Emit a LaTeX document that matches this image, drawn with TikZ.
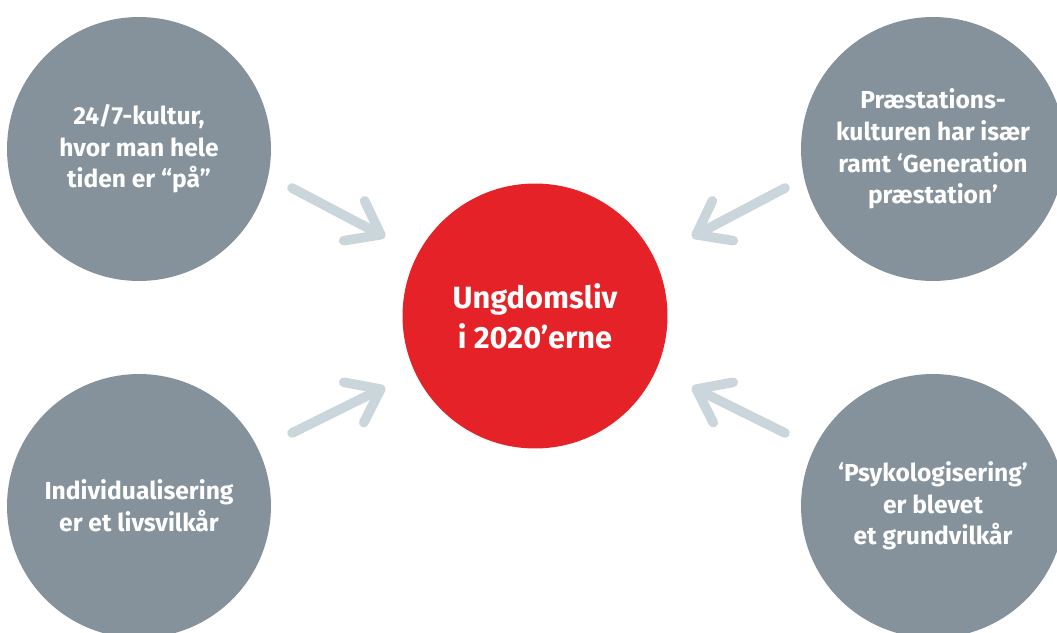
\documentclass[tikz,border=0pt]{standalone}
\usepackage{fontspec}
\setmainfont{Fira Sans}
\definecolor{ugrey}{RGB}{133,146,155}
\definecolor{ured}{RGB}{228,34,39}
\definecolor{uarrow}{RGB}{203,213,220}
\usetikzlibrary{arrows.meta,calc}

\begin{document}
\begin{tikzpicture}[
  x=0.02cm, y=-0.02cm,
  every node/.style={text=white},
  theme/.style={circle,fill=ugrey,minimum size=5.28cm,inner sep=0pt,align=center,
                font=\fontsize{14}{18}\selectfont\bfseries},
  flow/.style={line width=5.5pt,draw=uarrow,line cap=round,
               -{Straight Barb[round,length=0.6cm,width=0.9cm]}},
]
  \useasboundingbox (0,0) rectangle (1057,632);

  % Centre
  \node[circle,fill=ured,minimum size=5.3cm,inner sep=0pt,align=center,
        font=\fontsize{17.5}{23}\selectfont\bfseries]
    (hub) at (535,316) {Ungdomsliv\\i 2020’erne};

  % Themes round the centre
  \node[theme] (tl) at (139,149) {24/7-kultur,\\hvor man hele\\tiden er “på”};
  \node[theme] (tr) at (933,149) {Præstations-\\kulturen har især\\ramt ‘Generation\\præstation’};
  \node[theme] (bl) at (139,506) {Individualisering\\er et livsvilkår};
  \node[theme] (br) at (933,506) {‘Psykologisering’\\er blevet\\et grundvilkår};

  % Arrow ends
  \coordinate (tl-out) at (292,188);
  \coordinate (tl-in)  at (385,237);
  \coordinate (tr-out) at (785,188);
  \coordinate (tr-in)  at (692,237);
  \coordinate (bl-out) at (292,433);
  \coordinate (bl-in)  at (385,387);
  \coordinate (br-out) at (785,433);
  \coordinate (br-in)  at (692,387);

  % Arrows into the centre
  \draw[flow] (tl-out) -- (tl-in);
  \draw[flow] (tr-out) -- (tr-in);
  \draw[flow] (bl-out) -- (bl-in);
  \draw[flow] (br-out) -- (br-in);
\end{tikzpicture}
\end{document}
